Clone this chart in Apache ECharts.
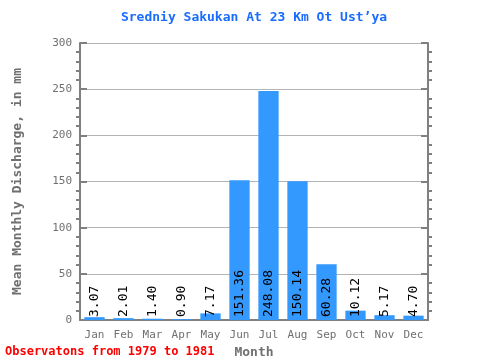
<!DOCTYPE html>
<html><head><meta charset="utf-8">
<script src="https://cdn.jsdelivr.net/npm/echarts@6/dist/echarts.min.js"></script>
<style>html,body{margin:0;padding:0;background:#fff}#c{width:480px;height:360px}</style>
</head><body><div id="c"></div>
<script>
var months = ["Jan","Feb","Mar","Apr","May","Jun","Jul","Aug","Sep","Oct","Nov","Dec"];
var discharge = [3.07, 2.01, 1.40, 0.90, 7.17, 151.36, 248.08, 150.14, 60.28, 10.12, 5.17, 4.70];
var yTicks = [0, 50, 100, 150, 200, 250, 300];

var font = "DejaVu Sans Mono";
var axisColor = "#808080";
var chart = echarts.init(document.getElementById('c'));
chart.setOption({
  animation: false,
  graphic: [{
    type: 'text', x: 254, y: 11,
    style: {text: "Sredniy Sakukan At 23 Km Ot Ust\u2019ya", fill: '#1a6cff', align: 'center',
      font: 'bold 13px "DejaVu Sans Mono"'}
  }, {
    type: 'text', left: 5, top: 346,
    style: {text: "Observatons from 1979 to 1981", fill: '#ff0000', font: 'bold 12px "DejaVu Sans Mono"'}
  }],
  grid: {left: 80, right: 52, top: 43, bottom: 40, outerBoundsMode: 'none', containLabel: false},
  xAxis: [{
    type: 'category', data: months, position: 'bottom',
    name: 'Month', nameLocation: 'middle', nameGap: 24,
    nameTextStyle: {fontFamily: font, fontSize: 13, fontWeight: 'bold', color: '#707070'},
    axisLine: {lineStyle: {color: axisColor, width: 2}},
    axisTick: {inside: true, length: 6, lineStyle: {color: axisColor, width: 2}},
    axisLabel: {fontFamily: font, fontSize: 11, color: '#707070', margin: 10},
    splitLine: {show: false}
  }, {
    type: 'category', data: months, position: 'top',
    axisLine: {lineStyle: {color: axisColor, width: 2}},
    axisTick: {inside: true, length: 6, lineStyle: {color: axisColor, width: 2}},
    axisLabel: {show: false}
  }, {
    type: 'category', position: 'bottom', z: 20,
    data: discharge.map(function(v){ return v.toFixed(2); }),
    axisLine: {show: false}, axisTick: {show: false}, splitLine: {show: false},
    axisLabel: {inside: true, rotate: 90, margin: 3, interval: 0, fontFamily: font, fontSize: 13,
      color: '#000', hideOverlap: false}
  }],
  yAxis: [{
    type: 'value', min: 0, max: 300, interval: 50, position: 'left',
    name: 'Mean Monthly Discharge, in mm', nameLocation: 'middle', nameGap: 56,
    nameTextStyle: {fontFamily: font, fontSize: 13, fontWeight: 'bold', color: '#707070'},
    axisLine: {show: true, lineStyle: {color: axisColor, width: 2}},
    axisTick: {show: true, inside: true, length: 7, lineStyle: {color: axisColor, width: 2}},
    minorTick: {show: true, splitNumber: 5, length: -4, lineStyle: {color: axisColor, width: 2}},
    axisLabel: {fontFamily: font, fontSize: 11, color: '#707070', margin: 8,
      formatter: function(v){ return yTicks.indexOf(v) >= 0 ? String(v) : ''; }},
    splitLine: {show: true, lineStyle: {color: '#b4b4b4', width: 1}}
  }, {
    type: 'value', min: 0, max: 300, interval: 50, position: 'right',
    axisLine: {show: true, lineStyle: {color: axisColor, width: 2}},
    axisTick: {show: true, inside: true, length: 7, lineStyle: {color: axisColor, width: 2}},
    minorTick: {show: true, splitNumber: 5, length: -4, lineStyle: {color: axisColor, width: 2}},
    axisLabel: {show: false},
    splitLine: {show: false}
  }],
  series: [{
    type: 'bar', data: discharge, barWidth: '70%', z: 2,
    itemStyle: {color: '#3399ff'}
  }]
});
</script></body></html>
